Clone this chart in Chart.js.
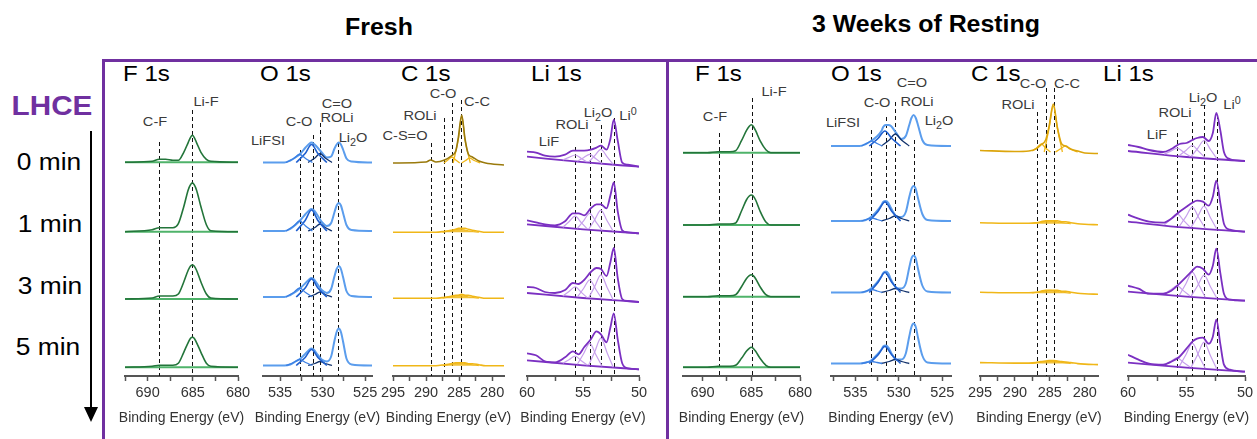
<!DOCTYPE html>
<html>
<head>
<meta charset="utf-8">
<script src="https://cdn.jsdelivr.net/npm/chart.js@4.4.1/dist/chart.umd.min.js"></script>
<style>
  body { margin: 0; background: #fff; font-family: "Liberation Sans", Arial, sans-serif; }
  #fig { position: relative; width: 1257px; height: 439px; overflow: hidden; background: #fff; }
  #fig canvas { position: absolute; }
  .lbl { position: absolute; white-space: nowrap; transform: translate(-50%, -50%) scaleX(1.08); color: #3a3a3a; font-size: 13.5px; line-height: 1; }
  .lbl sub, .lbl sup { font-size: 10px; line-height: 0; }
  .head { position: absolute; white-space: nowrap; transform: translate(-50%, -50%) scaleX(1.06); font-weight: bold; font-size: 23.5px; line-height: 1; color: #000; }
  .core { position: absolute; white-space: nowrap; transform-origin: left center; transform: translateY(-50%) scaleX(1.12); font-size: 21.5px; line-height: 1; color: #000; }
  .row { position: absolute; white-space: nowrap; transform: translate(-50%, -50%) scaleX(1.12); font-size: 23.5px; line-height: 1; color: #000; }
  .frame { position: absolute; background: #7030a0; }
</style>
</head>
<body>
<div id="fig">
  <div class="head" style="left:379px;top:28px;">Fresh</div>
  <div class="head" style="left:926px;top:25px;">3 Weeks of Resting</div>

  <div class="frame" style="left:102px;top:59px;width:1155px;height:3px;"></div>
  <div class="frame" style="left:102px;top:59px;width:3px;height:380px;"></div>
  <div class="frame" style="left:666px;top:59px;width:3px;height:380px;"></div>

  <div class="head" style="left:52px;top:106px;color:#7030a0;font-size:28px;">LHCE</div>
  <div class="row" style="left:49px;top:163px;">0 min</div>
  <div class="row" style="left:50px;top:225px;">1 min</div>
  <div class="row" style="left:50px;top:287px;">3 min</div>
  <div class="row" style="left:48px;top:348px;">5 min</div>
  <div style="position:absolute;left:90px;top:131px;width:2px;height:280px;background:#000;"></div>
  <div style="position:absolute;left:84px;top:407px;width:0;height:0;border-left:7px solid transparent;border-right:7px solid transparent;border-top:15px solid #000;"></div>

  <div class="core" style="left:123px;top:75px;">F 1s</div>
  <div class="core" style="left:260px;top:75px;">O 1s</div>
  <div class="core" style="left:401px;top:75px;">C 1s</div>
  <div class="core" style="left:531px;top:75px;">Li 1s</div>
  <div class="core" style="left:695px;top:75px;">F 1s</div>
  <div class="core" style="left:831px;top:75px;">O 1s</div>
  <div class="core" style="left:971px;top:75px;">C 1s</div>
  <div class="core" style="left:1103px;top:75px;">Li 1s</div>

  <div class="lbl" style="left:155px;top:122px;">C-F</div>
  <div class="lbl" style="left:206px;top:102px;">Li-F</div>
  <div class="lbl" style="left:268px;top:141px;">LiFSI</div>
  <div class="lbl" style="left:299px;top:122px;">C-O</div>
  <div class="lbl" style="left:337px;top:104px;">C=O</div>
  <div class="lbl" style="left:337px;top:118px;">ROLi</div>
  <div class="lbl" style="left:353px;top:138px;">Li<sub>2</sub>O</div>
  <div class="lbl" style="left:405px;top:136px;">C-S=O</div>
  <div class="lbl" style="left:420px;top:116px;">ROLi</div>
  <div class="lbl" style="left:443px;top:94px;">C-O</div>
  <div class="lbl" style="left:477px;top:102px;">C-C</div>
  <div class="lbl" style="left:549px;top:142px;">LiF</div>
  <div class="lbl" style="left:572px;top:125px;">ROLi</div>
  <div class="lbl" style="left:598px;top:113px;">Li<sub>2</sub>O</div>
  <div class="lbl" style="left:628px;top:116px;">Li<sup>0</sup></div>

  <div class="lbl" style="left:715px;top:117px;">C-F</div>
  <div class="lbl" style="left:774px;top:92px;">Li-F</div>
  <div class="lbl" style="left:843px;top:123px;">LiFSI</div>
  <div class="lbl" style="left:877px;top:103px;">C-O</div>
  <div class="lbl" style="left:912px;top:83px;">C=O</div>
  <div class="lbl" style="left:917px;top:102px;">ROLi</div>
  <div class="lbl" style="left:939px;top:121px;">Li<sub>2</sub>O</div>
  <div class="lbl" style="left:1018px;top:105px;">ROLi</div>
  <div class="lbl" style="left:1033px;top:84px;">C-O</div>
  <div class="lbl" style="left:1067px;top:84px;">C-C</div>
  <div class="lbl" style="left:1157px;top:135px;">LiF</div>
  <div class="lbl" style="left:1175px;top:113px;">ROLi</div>
  <div class="lbl" style="left:1203px;top:98px;">Li<sub>2</sub>O</div>
  <div class="lbl" style="left:1232px;top:105px;">Li<sup>0</sup></div>

  <canvas id="fFresh"></canvas>
  <canvas id="oFresh"></canvas>
  <canvas id="cFresh"></canvas>
  <canvas id="liFresh"></canvas>
  <canvas id="fWeeks"></canvas>
  <canvas id="oWeeks"></canvas>
  <canvas id="cWeeks"></canvas>
  <canvas id="liWeeks"></canvas>
</div>

<script>
// ---- tick labels (binding energy, eV) ----
const fTicks = [692.5, 690, 687.5, 685, 682.5, 680];
const oTicks = [537.5, 535, 532.5, 530, 527.5, 525];
const cTicks = [295, 292.5, 290, 287.5, 285, 282.5, 280];
const liTicks = [60, 57.5, 55, 52.5, 50];
const axisTitle = 'Binding Energy (eV)';

// ---- peak positions (dashed reference lines) ----
const fFreshPeaks = [688.7, 685.05];
const oFreshPeaks = [532.67, 531.16, 530.27, 528.17];
const cFreshPeaks = [289.26, 287.26, 286.0, 284.7];
const liFreshPeaks = [55.67, 54.4, 53.43, 52.24];
const fWeeksPeaks = [688.35, 684.97];
const oWeeksPeaks = [533.2, 531.5, 530.4, 528.3];
const cWeeksPeaks = [286.9, 285.5, 284.4];
const liWeeksPeaks = [55.79, 54.52, 53.53, 52.42];

// ---- F 1s (rows: 0, 1, 3, 5 min) ----
const fFreshX = [692.5, 689.5, 688.7, 688, 687.2, 686.6, 686, 685.5, 685.25, 685.05, 684.85, 684.6, 684.1, 683.5, 683, 680];
const fFreshRows = [
  [0, 1, 3, 3, 2, 2, 10, 20, 25, 27, 25, 20, 10, 3, 1, 0],
  [0, 2, 4, 4, 4, 8, 25, 42, 47, 49, 47, 42, 25, 7, 1, 0],
  [0, 1, 3, 3, 3, 5, 17, 29, 33, 34, 33, 29, 17, 5, 1, 0],
  [0, 1, 2, 2, 2, 4, 15, 25, 29, 30, 29, 25, 15, 4, 1, 0]
];
const fWeeksX = [692, 689.5, 688.4, 688, 687.2, 686.6, 686, 685.5, 685.2, 685.0, 684.8, 684.55, 684.1, 683.5, 683, 680];
const fWeeksRows = [
  [0, 0, 1, 1, 1, 2, 12, 22, 26.5, 28, 26.5, 22, 12, 3, 0, 0],
  [0, 0, 1, 1, 1, 2, 14, 25, 29, 30, 29, 25, 14, 3, 0, 0],
  [0, 0, 1, 1, 1, 2, 10, 18, 21, 22, 21, 18, 10, 2, 0, 0],
  [0, 0, 1, 1, 1, 2, 9, 16, 19, 20, 19, 16, 9, 2, 0, 0]
];

// ---- O 1s ----
const oFreshX = [537, 534.5, 533.8, 533.2, 532.6, 532, 531.6, 531.3, 531.0, 530.7, 530.1, 529.5, 529, 528.6, 528.35, 528.1, 527.85, 527.6, 527.2, 526.6, 524.2];
const oFreshRows = [
  [0, 0, 2, 5, 9, 15, 18.5, 20, 18.5, 16, 10, 5, 6, 14, 18, 20, 18, 13, 4, 1, 0],
  [0, 0, 2, 6, 11, 17, 20.5, 22, 20.5, 17, 9, 5, 8, 19, 25.5, 28, 25.5, 18, 6, 1, 0],
  [0, 0, 2, 5, 9, 14, 17.5, 19, 17.5, 14, 7, 4, 8, 21, 28, 31, 28, 20, 6, 1, 0],
  [0, 0, 1, 4, 7, 12, 15.5, 17, 15.5, 12, 6, 4, 9, 25, 33.5, 37, 33.5, 24, 7, 1, 0]
];
const oFreshLiFSI = [
  [[534.3, 0], [533.4, 4], [532.7, 8], [532, 4], [531.2, 0]],
  [[534.3, 0], [533.4, 5], [532.7, 10], [532, 5], [531.2, 0]],
  [[534.3, 0], [533.4, 4.5], [532.7, 9], [532, 4.5], [531.2, 0]],
  [[534.3, 0], [533.4, 3], [532.7, 6], [532, 3], [531.2, 0]]
];
const oFreshCO = [
  [[533.1, 0], [532.05, 9], [531.3, 18], [530.55, 9], [529.5, 0]],
  [[533.1, 0], [532.05, 10.5], [531.3, 21], [530.55, 10.5], [529.5, 0]],
  [[533.1, 0], [532.05, 9], [531.3, 18], [530.55, 9], [529.5, 0]],
  [[533.1, 0], [532.05, 8], [531.3, 16], [530.55, 8], [529.5, 0]]
];
const oFreshROLi = [
  [[531.7, 0], [530.9, 4.5], [530.3, 9], [529.7, 4.5], [528.9, 0]],
  [[531.7, 0], [530.9, 3.5], [530.3, 7], [529.7, 3.5], [528.9, 0]],
  [[531.7, 0], [530.9, 2.5], [530.3, 5], [529.7, 2.5], [528.9, 0]],
  [[531.7, 0], [530.9, 2], [530.3, 4], [529.7, 2], [528.9, 0]]
];
const oWeeksX = [537.8, 534.5, 533.8, 533.2, 532.6, 532, 531.8, 531.5, 531.2, 530.9, 530.3, 529.7, 529.2, 528.8, 528.55, 528.3, 528.05, 527.8, 527.3, 526.7, 524];
const oWeeksRows = [
  [0, 0, 2, 5, 9, 15, 19, 21, 21, 20, 13, 7, 10, 21, 28, 31, 28, 21, 6, 1, 0],
  [0, 0, 1, 4, 9, 16, 19, 20, 18, 13, 5, 4, 9, 24, 32, 35, 32, 23, 7, 1, 0],
  [0, 0, 1, 4, 9, 16, 19.5, 21, 19, 13, 5, 4, 9, 25, 34, 37, 34, 24, 7, 1, 0],
  [0, 0, 1, 3, 8, 14, 17, 18, 16, 11, 4, 4, 10, 27, 36.5, 40, 36.5, 26, 8, 1, 0]
];
const oWeeksLiFSI = [
  [[534.3, 0], [533.7, 2.5], [533.1, 5], [532.5, 2.5], [531.9, 0]],
  [[534.3, 0], [533.7, 1.5], [533.1, 3], [532.5, 1.5], [531.9, 0]],
  [[534.3, 0], [533.7, 1.5], [533.1, 3], [532.5, 1.5], [531.9, 0]],
  [[534.3, 0], [533.7, 1], [533.1, 2], [532.5, 1], [531.9, 0]]
];
const oWeeksCO = [
  [[533.4, 0], [532.4, 7.5], [531.6, 15], [530.8, 7.5], [529.8, 0]],
  [[533.4, 0], [532.4, 9.5], [531.6, 19], [530.8, 9.5], [529.8, 0]],
  [[533.4, 0], [532.4, 10], [531.6, 20], [530.8, 10], [529.8, 0]],
  [[533.4, 0], [532.4, 8.5], [531.6, 17], [530.8, 8.5], [529.8, 0]]
];
const oWeeksROLi = [
  [[532, 0], [531.1, 6], [530.4, 12], [529.7, 6], [528.8, 0]],
  [[532, 0], [531.1, 2.5], [530.4, 5], [529.7, 2.5], [528.8, 0]],
  [[532, 0], [531.1, 2], [530.4, 4], [529.7, 2], [528.8, 0]],
  [[532, 0], [531.1, 2], [530.4, 4], [529.7, 2], [528.8, 0]]
];

// ---- C 1s ----
const cFreshX = [295, 290, 289.3, 288.5, 287.2, 286.2, 285.5, 285.1, 284.6, 284.1, 283.6, 283, 282, 281, 278.2];
const cFreshRows = [
  [0, 1, 3, 1, 3, 7, 12, 26, 48, 24, 9, 6, 2, 0, -2],
  [0, 0, 0, 0, 1, 2, 3, 4, 4, 4, 3, 2, 1, 0, 0],
  [0, 0, 0, 0, 1, 2, 3, 3, 4, 3, 3, 2, 1, 0, 0],
  [0, 0, 0, 0, 1, 2, 3, 3, 3, 3, 2, 2, 1, 0, 0]
];
const cFreshTopParts = [
  [[285.9, 0], [285.1, 24], [284.6, 47], [284.1, 23], [283.3, 0]],
  [[287.3, 0], [286.7, 3], [286.1, 6], [285.5, 3], [284.9, 0]],
  [[284.6, 0], [284, 2.5], [283.4, 5], [282.7, 2.5], [281.8, 0]]
];
const cFreshBumps = [
  null,
  [[287.5, 0], [286.3, 1.5], [285, 3.5], [283.6, 1.5], [282, 0]],
  [[287.5, 0], [286.3, 1.5], [285, 3], [283.6, 1.5], [282, 0]],
  [[287.5, 0], [286.3, 1.5], [285, 3], [283.6, 1.5], [282, 0]]
];
const cWeeksX = [295, 290, 288, 287, 286.3, 285.6, 285.1, 284.5, 283.9, 283.3, 282.7, 282, 281, 280, 278.1];
const cWeeksRows = [
  [1.5, 0.5, 1, 3, 7, 12, 26, 48, 24, 8, 6, 3, 1, -1, -1.5],
  [1, 0.5, 0.5, 1, 2, 3, 3, 3, 3, 2, 2, 1, 0, -0.5, -1],
  [1, 0.5, 0.5, 1, 2, 3, 3, 3, 3, 2, 2, 1, 0, -0.5, -1],
  [1, 0.5, 0.5, 1, 2, 2.5, 3, 3, 2.5, 2, 1.5, 1, 0, -0.5, -1]
];
const cWeeksTopParts = [
  [[285.8, 0], [285.1, 24], [284.5, 46], [283.9, 23], [283.2, 0]],
  [[287.5, 1], [286.9, 4], [286.2, 8], [285.6, 4], [284.9, 0]],
  [[284.2, 0], [283.4, 3.5], [282.8, 6], [282.1, 3], [281, 0]]
];
const cWeeksBumps = [
  null,
  [[287.5, 0.5], [286.3, 1.5], [285, 3], [283.6, 1.5], [282, 0]],
  [[287.5, 0.5], [286.3, 1.5], [285, 3], [283.6, 1.5], [282, 0]],
  [[287.5, 0.5], [286.3, 1.5], [285, 2.5], [283.6, 1.5], [282, 0]]
];

// ---- Li 1s ----
const liFreshX = [60, 59.2, 58.4, 57.5, 56.6, 55.9, 55.4, 54.9, 54.3, 53.8, 53.4, 52.9, 52.55, 52.25, 51.9, 51.5, 51, 50];
const liFreshRows = [
  [15, 14, 11, 10, 12, 16, 16, 16, 17, 19, 21, 17, 28, 47, 26, 4, 2, 0],
  [13, 11, 9, 8, 12, 20, 20, 18, 25, 29, 29, 25, 38, 51, 22, 3, 1, 0],
  [15, 14, 10, 9, 12, 19, 18, 22, 30, 34, 33, 26, 40, 54, 24, 3, 1, 0],
  [16, 14, 8, 7, 12, 18, 15, 22, 30, 38, 35, 27, 42, 56, 30, 6, 1, 0]
];
const liFreshBackground = [
  [[60, 10], [55, 4.5], [50, 0]],
  [[60, 9], [55, 4], [50, 0]],
  [[60, 9], [55, 4], [50, 0]],
  [[60, 9], [55, 4], [50, 0]]
];
const liFreshLiF = [
  [[56.8, 6.8], [56.25, 9.3], [55.7, 11.7], [55.15, 8.2], [54.6, 4.6]],
  [[56.8, 6.1], [56.25, 11.6], [55.7, 17.1], [55.15, 10.6], [54.6, 4.1]],
  [[56.8, 6.1], [56.25, 10.6], [55.7, 15.1], [55.15, 9.6], [54.6, 4.1]],
  [[56.8, 6.1], [56.25, 9.6], [55.7, 13.1], [55.15, 8.6], [54.6, 4.1]]
];
const liFreshROLi = [
  [[55.5, 5.5], [54.95, 9], [54.4, 12.4], [53.85, 7.9], [53.3, 3.3]],
  [[55.5, 5], [54.95, 12.5], [54.4, 20], [53.85, 11.5], [53.3, 3]],
  [[55.5, 5], [54.95, 13.5], [54.4, 22], [53.85, 12.5], [53.3, 3]],
  [[55.5, 5], [54.95, 15.5], [54.4, 26], [53.85, 14.5], [53.3, 3]]
];
const liFreshLi2O = [
  [[54.5, 4.5], [53.95, 11], [53.4, 17.4], [52.85, 9.9], [52.3, 2.3]],
  [[54.5, 4], [53.95, 13.6], [53.4, 23.1], [52.85, 12.6], [52.3, 2.1]],
  [[54.5, 4], [53.95, 15.6], [53.4, 27.1], [52.85, 14.6], [52.3, 2.1]],
  [[54.5, 4], [53.95, 17.6], [53.4, 31.1], [52.85, 16.6], [52.3, 2.1]]
];
const liWeeksX = [60, 59.1, 58.2, 57.0, 56.3, 55.6, 55.0, 54.5, 54.1, 53.6, 53.1, 52.75, 52.45, 52.1, 51.8, 51.3, 50];
const liWeeksRows = [
  [16, 14, 11, 9, 12, 17, 18, 21, 23, 24, 20, 28, 48, 30, 9, 2, 0],
  [17, 13, 10, 9, 13, 20, 25, 29, 31, 30, 26, 35, 51, 28, 8, 2, 0],
  [15, 12, 7, 7, 10, 17, 24, 30, 34, 32, 26, 35, 52, 27, 7, 1, 0],
  [17, 12, 8, 7, 10, 15, 23, 30, 33, 34, 28, 35, 52, 27, 7, 2, 0]
];
const liWeeksBackground = [
  [[60, 10], [55, 4], [50, 0]],
  [[60, 10], [55, 4], [50, 0]],
  [[60, 9], [55, 4], [50, 0]],
  [[60, 9], [55, 4], [50, 0]]
];
const liWeeksLiF = [
  [[56.9, 6.9], [56.35, 9.9], [55.8, 12.8], [55.25, 8.8], [54.7, 4.7]],
  [[56.9, 6.9], [56.35, 12.4], [55.8, 17.8], [55.25, 11.3], [54.7, 4.7]],
  [[56.9, 6.9], [56.35, 10.9], [55.8, 14.8], [55.25, 9.8], [54.7, 4.7]],
  [[56.9, 6.9], [56.35, 10.4], [55.8, 13.8], [55.25, 9.3], [54.7, 4.7]]
];
const liWeeksROLi = [
  [[55.6, 5.6], [55.05, 10.5], [54.5, 15.5], [53.95, 9.5], [53.4, 3.4]],
  [[55.6, 5.6], [55.05, 15], [54.5, 24.5], [53.95, 14], [53.4, 3.4]],
  [[55.6, 5.6], [55.05, 17], [54.5, 28.5], [53.95, 16], [53.4, 3.4]],
  [[55.6, 5.6], [55.05, 17], [54.5, 28.5], [53.95, 16], [53.4, 3.4]]
];
const liWeeksLi2O = [
  [[54.6, 4.6], [54.05, 12.5], [53.5, 20.5], [52.95, 11.5], [52.4, 2.4]],
  [[54.6, 4.6], [54.05, 15], [53.5, 25.5], [52.95, 14], [52.4, 2.4]],
  [[54.6, 4.6], [54.05, 15], [53.5, 25.5], [52.95, 14], [52.4, 2.4]],
  [[54.6, 4.6], [54.05, 17], [53.5, 29.5], [52.95, 16], [52.4, 2.4]]
];

// ---- layout: stacking offsets of each row, dashed line tops (px above axis) ----
const offsets = {
  fFresh: [213.7, 144.3, 77, 8.7], oFresh: [213.5, 145, 79, 10.5],
  cFresh: [213, 143.7, 77.7, 10.3], liFresh: [209.3, 142.7, 74, 6.7],
  fWeeks: [223.3, 151, 79.3, 8.7], oWeeks: [230, 155, 83.5, 12.5],
  cWeeks: [224, 152.2, 82.7, 12.4], liWeeks: [215, 144.3, 75.3, 4.3]
};
const dashTops = {
  fFresh: [234, 266], oFresh: [226, 241, 253, 233], cFresh: [233, 258, 273, 276], liFresh: [229, 244, 251, 258],
  fWeeks: [243, 278], oWeeks: [246, 259, 274, 236], cWeeks: [264, 288, 288], liWeeks: [243, 254, 271, 261]
};

const colors = {
  fBase: '#4fb36a', fPeak: '#23753a',
  oEnv: '#5b9ded', oLiFSI: '#3b7fe3', oCO: '#1f5fcf', oROLi: '#10306a',
  cFreshEnv: '#9a7a0c', cWeeksEnv: '#dca50c', cPart: '#f0b718', cFill: 'rgba(240, 183, 24, 0.85)',
  liEnv: '#7b30c2', liPart: '#c7a0ec'
};

const fontFamily = '"Liberation Sans", Arial, sans-serif';
Chart.defaults.font.family = fontFamily;

function onGrid(xs, ys, off) { return xs.map((x, i) => ({ x: x, y: off + ys[i] })); }
function onPairs(pairs, off) { return pairs.map(p => ({ x: p[0], y: off + p[1] })); }
function line(points, color, width, order, extra) {
  return Object.assign({ data: points, borderColor: color, borderWidth: width, pointRadius: 0, fill: false, order: order }, extra || {});
}

function buildF(xs, rows, offs) {
  const sets = [];
  rows.forEach((ys, r) => {
    sets.push(line([{ x: xs[0], y: offs[r] }, { x: xs[xs.length - 1], y: offs[r] }], colors.fBase, 2, 2));
    sets.push(line(onGrid(xs, ys, offs[r]), colors.fPeak, 1.6, 0));
  });
  return sets;
}

function buildO(xs, rows, liFSI, co, roli, offs) {
  const sets = [];
  rows.forEach((ys, r) => {
    sets.push(line(onGrid(xs, ys, offs[r]), colors.oEnv, 2, 1));
    sets.push(line(onPairs(liFSI[r], offs[r]), colors.oLiFSI, 1.3, 0));
    sets.push(line(onPairs(co[r], offs[r]), colors.oCO, 1.6, 0));
    sets.push(line(onPairs(roli[r], offs[r]), colors.oROLi, 1.3, 0));
  });
  return sets;
}

function buildC(xs, rows, topParts, bumps, offs, envColor) {
  const sets = [];
  rows.forEach((ys, r) => {
    if (bumps[r]) {
      sets.push(line(onPairs(bumps[r], offs[r]), colors.cPart, 1, 2, { fill: { value: offs[r] }, backgroundColor: colors.cFill }));
    } else {
      topParts.forEach(p => sets.push(line(onPairs(p, offs[r]), colors.cPart, 1.3, 1)));
    }
    sets.push(line(onGrid(xs, ys, offs[r]), r === 0 ? envColor : colors.cPart, 1.6, 0));
  });
  return sets;
}

function buildLi(xs, rows, bg, lif, roli, li2o, offs) {
  const sets = [];
  rows.forEach((ys, r) => {
    sets.push(line(onPairs(bg[r], offs[r]), colors.liEnv, 1.8, 2));
    [lif, roli, li2o].forEach(p => sets.push(line(onPairs(p[r], offs[r]), colors.liPart, 1.2, 1)));
    sets.push(line(onGrid(xs, ys, offs[r]), colors.liEnv, 1.8, 0));
  });
  return sets;
}

// dashed peak markers under the spectra; tick numbers and axis title under the axis
const peakLines = {
  id: 'peakLines',
  beforeDatasetsDraw(chart, args, opts) {
    const ctx = chart.ctx, xs = chart.scales.x, ys = chart.scales.y;
    ctx.save();
    ctx.strokeStyle = '#111';
    ctx.lineWidth = 1;
    ctx.setLineDash([4, 3]);
    opts.peaks.forEach((p, i) => {
      const px = Math.round(xs.getPixelForValue(p)) + 0.5;
      ctx.beginPath();
      ctx.moveTo(px, ys.getPixelForValue(opts.tops[i]));
      ctx.lineTo(px, ys.getPixelForValue(0));
      ctx.stroke();
    });
    ctx.restore();
  },
  afterDraw(chart) {
    const ctx = chart.ctx, area = chart.chartArea, xs = chart.scales.x;
    ctx.save();
    ctx.fillStyle = '#333';
    ctx.textAlign = 'center';
    ctx.textBaseline = 'middle';
    ctx.font = '14.5px "Liberation Sans", Arial, sans-serif';
    xs.ticks.forEach(t => {
      if (t.value % 5 === 0) ctx.fillText(String(t.value), xs.getPixelForValue(t.value), area.bottom + 17);
    });
    ctx.font = '14px "Liberation Sans", Arial, sans-serif';
    ctx.fillText(axisTitle, (area.left + area.right) / 2, area.bottom + 42);
    ctx.restore();
  }
};

function drawColumn(id, area, range, tickList, peaks, datasets) {
  const pad = 22;
  const cv = document.getElementById(id);
  cv.width = Math.round(area[1] - area[0]) + 2 * pad;
  cv.height = 399;
  cv.style.left = (area[0] - pad) + 'px';
  cv.style.top = '40px';
  new Chart(cv, {
    type: 'line',
    data: { datasets: datasets },
    options: {
      responsive: false,
      animation: false,
      devicePixelRatio: 1,
      layout: { padding: { left: pad, right: pad, top: 20, bottom: 13 } },
      elements: { line: { cubicInterpolationMode: 'monotone' }, point: { radius: 0 } },
      plugins: {
        legend: { display: false },
        tooltip: { enabled: false },
        peakLines: { peaks: peaks, tops: dashTops[id] }
      },
      scales: {
        x: {
          type: 'linear',
          reverse: true,
          bounds: 'data',
          min: range[1],
          max: range[0],
          afterBuildTicks: s => { s.ticks = tickList.filter(v => v >= range[1] && v <= range[0]).map(v => ({ value: v })); },
          afterFit: s => { s.height = 50; },
          border: { display: true, color: '#555', width: 2 },
          grid: { display: true, drawOnChartArea: false, drawTicks: true, tickLength: 5, tickColor: '#555', tickWidth: 1.5 },
          ticks: { autoSkip: false, maxRotation: 0, callback: () => '' },
          title: { display: false }
        },
        y: { display: false, min: 0, max: 316 }
      }
    },
    plugins: [peakLines]
  });
}

drawColumn('fFresh', [125, 238], [692.5, 680], fTicks, fFreshPeaks, buildF(fFreshX, fFreshRows, offsets.fFresh));
drawColumn('oFresh', [262.7, 371.7], [537, 524.2], oTicks, oFreshPeaks,
  buildO(oFreshX, oFreshRows, oFreshLiFSI, oFreshCO, oFreshROLi, offsets.oFresh));
drawColumn('cFresh', [392.7, 504], [295, 278.2], cTicks, cFreshPeaks,
  buildC(cFreshX, cFreshRows, cFreshTopParts, cFreshBumps, offsets.cFresh, colors.cFreshEnv));
drawColumn('liFresh', [526.7, 638.3], [60, 50], liTicks, liFreshPeaks,
  buildLi(liFreshX, liFreshRows, liFreshBackground, liFreshLiF, liFreshROLi, liFreshLi2O, offsets.liFresh));

drawColumn('fWeeks', [683.3, 800.7], [692, 680], fTicks, fWeeksPeaks, buildF(fWeeksX, fWeeksRows, offsets.fWeeks));
drawColumn('oWeeks', [830.7, 950.7], [537.8, 524], oTicks, oWeeksPeaks,
  buildO(oWeeksX, oWeeksRows, oWeeksLiFSI, oWeeksCO, oWeeksROLi, offsets.oWeeks));
drawColumn('cWeeks', [980, 1098.3], [295, 278.1], cTicks, cWeeksPeaks,
  buildC(cWeeksX, cWeeksRows, cWeeksTopParts, cWeeksBumps, offsets.cWeeks, colors.cWeeksEnv));
drawColumn('liWeeks', [1128.3, 1245.7], [60, 50], liTicks, liWeeksPeaks,
  buildLi(liWeeksX, liWeeksRows, liWeeksBackground, liWeeksLiF, liWeeksROLi, liWeeksLi2O, offsets.liWeeks));
</script>
</body>
</html>
